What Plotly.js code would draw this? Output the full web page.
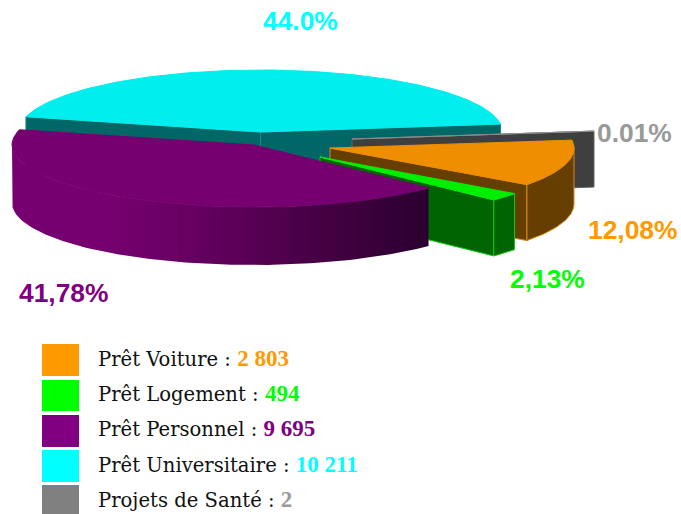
<!DOCTYPE html>
<html><head><meta charset="utf-8">
<script src="https://cdn.plot.ly/plotly-3.0.1.min.js"></script>
<style>html,body{margin:0;padding:0;background:#fff}#c{width:681px;height:514px}</style></head>
<body><div id="c"></div>
<script>
// data
const names = ["Prêt Voiture","Prêt Logement","Prêt Personnel","Prêt Universitaire","Projets de Santé"];
const values = [2803,494,9695,10211,2];
const valueLabels = ["2 803","494","9 695","10 211","2"];
const pctLabels = ["12,08%","2,13%","41,78%","44.0%","0.01%"];
// style
const legendColors = ["#ff9900","#00ff00","#800080","#00ffff","#808080"];
const topColors = ["#ee8e00","#00ee00","#770070","#00eeee","#8a8a8a"];
const wallColors = ["#663f00","#006400","#3c003c","#006666","#3f3f3f"];
const edgeColors = ["#d98a10","#12c912","#7a2a78","#128a8a","#555555"];
const labelColors = ["#ff9900","#00ff00","#800080","#00ffff","#999999"];
// geometry of the drawing (exploded slices)
const apexX = [330,320,254,260.5,352];
const apexY = [148,157,145,132,139];
const radX = [244,241,242,242,244];
const depths = [56,56,58,56,56];
const radY = 62, startAngle = -7.3;
const labelX = [633,547,64,300,634.5];
const labelY = [230,279,293,21,133];

const total = values.reduce((a,b)=>a+b,0);
let cum = startAngle;
const ang = values.map(v=>{const a=[cum,cum+360*v/total];cum=a[1];return a;});
const pt=(i,deg,dy=0)=>[apexX[i]+radX[i]*Math.cos(deg*Math.PI/180),apexY[i]+radY*Math.sin(deg*Math.PI/180)+dy];
function arc(i,a,b,dy=0){const n=Math.max(2,Math.ceil(Math.abs(b-a)));const o=[];for(let k=0;k<=n;k++)o.push(pt(i,a+(b-a)*k/n,dy));return o;}
function poly(p,fill,line,w,extra){return Object.assign({type:"scatter",mode:"lines",x:p.map(q=>q[0]),y:p.map(q=>q[1]),fill:"toself",fillcolor:fill,line:{color:line,width:w},hoverinfo:"skip",showlegend:false},extra||{});}
const topFace=i=>[[apexX[i],apexY[i]],...arc(i,ang[i][0],ang[i][1]),[apexX[i],apexY[i]]];
const radial=(i,deg)=>{const e=pt(i,deg),b=pt(i,deg,depths[i]);return [[apexX[i],apexY[i]],e,b,[apexX[i],apexY[i]+depths[i]],[apexX[i],apexY[i]]];};
// outer wall: only the front half of the ellipse can be seen
const rim=i=>{const s=Math.max(ang[i][0],0),e=Math.min(ang[i][1],180);const a=arc(i,s,e),b=arc(i,e,s,depths[i]);return [...a,...b,a[0]];};

const t=[];
t.push(poly(radial(3,ang[3][0]),wallColors[3],edgeColors[3],1));
t.push(poly(radial(3,ang[3][1]),wallColors[3],edgeColors[3],1));
t.push(poly(topFace(3),topColors[3],topColors[3],1));
t.push(poly(radial(4,ang[4][0]),wallColors[4],"#666666",1));
t.push(poly(topFace(4),topColors[4],topColors[4],1));
t.push(poly(radial(0,ang[0][1]),wallColors[0],edgeColors[0],1));
t.push(poly(rim(0),wallColors[0],edgeColors[0],1));
t.push(poly(topFace(0),topColors[0],topColors[0],1));
t.push(poly(radial(1,ang[1][1]),wallColors[1],edgeColors[1],1));
t.push(poly(rim(1),wallColors[1],edgeColors[1],1));
t.push(poly(topFace(1),topColors[1],topColors[1],1));
t.push(poly(rim(2),"#600060","#600060",0,{fillgradient:{type:"horizontal",colorscale:[[0,"#770070"],[0.22,"#770070"],[0.4,"#690064"],[0.62,"#52004f"],[0.85,"#3a003a"],[1,"#2a0030"]]}}));
t.push(poly(topFace(2),topColors[2],topColors[2],1));

// legend
const rowTop=[344,380,415,450,485], rowBottom=[376,411,447,482,514], rowText=[358,393,428,464,499];
const shapes=names.map((n,i)=>({type:"rect",xref:"x",yref:"y",x0:42,x1:79,y0:rowTop[i],y1:rowBottom[i],fillcolor:legendColors[i],line:{width:0}}));
const serif="'DejaVu Serif','Liberation Serif',serif";
const ann=names.map((n,i)=>({xref:"x",yref:"y",x:96,y:rowText[i],xanchor:"left",yanchor:"middle",showarrow:false,align:"left",
  text:n+" : <b><span style=\"color:"+labelColors[i]+";font-family:'Liberation Serif',serif;font-size:23px\">"+valueLabels[i]+"</span></b>",font:{family:serif,size:19.6,color:"#111111"}}));
pctLabels.forEach((p,i)=>ann.push({xref:"x",yref:"y",x:labelX[i],y:labelY[i],xanchor:"center",yanchor:"middle",showarrow:false,
  text:"<b>"+p+"</b>",font:{family:"'Liberation Sans',Arial,sans-serif",size:26.4,color:labelColors[i]}}));

Plotly.newPlot("c",t,{width:681,height:514,margin:{l:0,r:0,t:0,b:0},paper_bgcolor:"#fff",plot_bgcolor:"#fff",showlegend:false,
  xaxis:{range:[0,681],visible:false,fixedrange:true},yaxis:{range:[514,0],visible:false,fixedrange:true},shapes:shapes,annotations:ann},{displayModeBar:false,staticPlot:true});
</script></body></html>
